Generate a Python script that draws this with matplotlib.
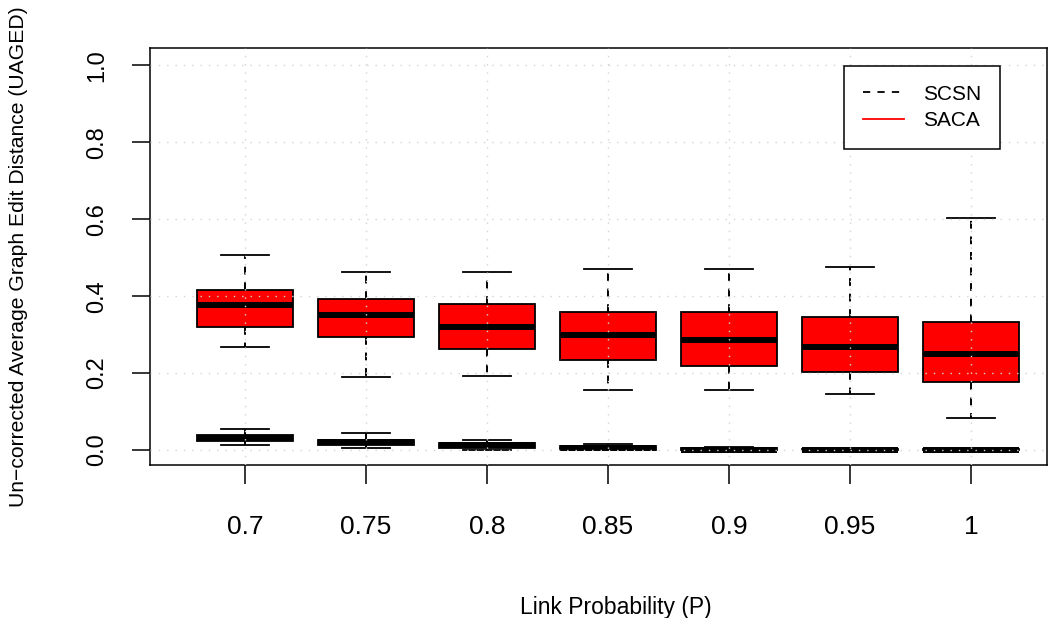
import matplotlib
matplotlib.use("Agg")
import matplotlib.pyplot as plt
from matplotlib.lines import Line2D

plt.rcParams['font.family'] = ['Liberation Sans', 'DejaVu Sans']

p_labels = ["0.7", "0.75", "0.8", "0.85", "0.9", "0.95", "1"]

# SACA box statistics (lower whisker, Q1, median, Q3, upper whisker)
saca_whislo = [0.269, 0.191, 0.193, 0.157, 0.155, 0.145, 0.082]
saca_q1     = [0.321, 0.294, 0.262, 0.233, 0.219, 0.204, 0.176]
saca_med    = [0.378, 0.352, 0.319, 0.300, 0.285, 0.269, 0.250]
saca_q3     = [0.415, 0.394, 0.380, 0.360, 0.360, 0.345, 0.334]
saca_whishi = [0.506, 0.463, 0.463, 0.472, 0.470, 0.476, 0.603]

# SCSN box statistics
scsn_whislo = [0.012, 0.004, 0.000, 0.000, 0.000, 0.000, 0.000]
scsn_q1     = [0.023, 0.013, 0.006, 0.001, 0.000, 0.000, 0.000]
scsn_med    = [0.030, 0.020, 0.012, 0.005, 0.001, 0.000, 0.000]
scsn_q3     = [0.038, 0.027, 0.018, 0.010, 0.004, 0.003, 0.003]
scsn_whishi = [0.055, 0.045, 0.025, 0.016, 0.009, 0.003, 0.003]

y_ticks = [0.0, 0.2, 0.4, 0.6, 0.8, 1.0]


def make_stats(lo, q1, med, q3, hi):
    return [dict(whislo=a, q1=b, med=c, q3=d, whishi=e, fliers=[])
            for a, b, c, d, e in zip(lo, q1, med, q3, hi)]


fig = plt.figure(figsize=(10.59, 6.18), dpi=100)
ax = fig.add_axes([150 / 1059, 1 - 465 / 618, 897 / 1059, 417 / 618])

positions = list(range(1, len(p_labels) + 1))

def draw(stats, face):
    ax.bxp(stats, positions=positions, widths=0.8, capwidths=0.4,
           patch_artist=True, showfliers=False,
           boxprops=dict(facecolor=face, edgecolor='black', linewidth=1.3),
           medianprops=dict(color='black', linewidth=4.3, solid_capstyle='butt'),
           whiskerprops=dict(color='black', linewidth=1.4, linestyle=(0, (4, 4))),
           capprops=dict(color='black', linewidth=1.3))

draw(make_stats(scsn_whislo, scsn_q1, scsn_med, scsn_q3, scsn_whishi), 'white')
draw(make_stats(saca_whislo, saca_q1, saca_med, saca_q3, saca_whishi), '#FF0000')

ax.set_xlim(0.215, 7.628)
ax.set_ylim(-0.039, 1.0455)

# grid on top
for x in positions:
    ax.axvline(x, color='#D3D3D3', linestyle=(0, (1, 5)), linewidth=1.0, zorder=10)
for y in y_ticks:
    ax.axhline(y, color='#D3D3D3', linestyle=(0, (1, 5)), linewidth=1.0, zorder=10)

ax.set_xticks(positions)
ax.set_xticklabels(p_labels)
ax.set_yticks(y_ticks)
ax.set_yticklabels([f"{v:.1f}" for v in y_ticks], rotation=90, va='center')
ax.tick_params(axis='x', length=14, width=1.1, labelsize=19, pad=22)
ax.tick_params(axis='y', length=13, width=1.1, labelsize=17, pad=17)
for s in ax.spines.values():
    s.set_linewidth(1.1)

ax.set_xlabel("Link Probability (P)", fontsize=16.5)
ax.set_ylabel("Un\u2212corrected Average Graph Edit Distance (UAGED)", fontsize=15.2)
ax.xaxis.set_label_coords(0.5195, -0.313)
ax.yaxis.set_label_coords(-0.136, 0.5)

handles = [Line2D([], [], color='black', linestyle=(0, (4, 4)), linewidth=1.3),
           Line2D([], [], color='#FF0000', linewidth=1.3)]
leg = ax.legend(handles, ["SCSN", "SACA"], loc='upper right',
                bbox_to_anchor=((1000 - 150) / 897, (465 - 66) / 417),
                fontsize=15, frameon=True, fancybox=False, framealpha=1,
                edgecolor='black', handlelength=2.0, handletextpad=0.9,
                borderpad=0.9, labelspacing=0.35, borderaxespad=0)
leg.get_frame().set_linewidth(1.1)
leg.set_zorder(20)

fig.savefig("out.png", dpi=100)
